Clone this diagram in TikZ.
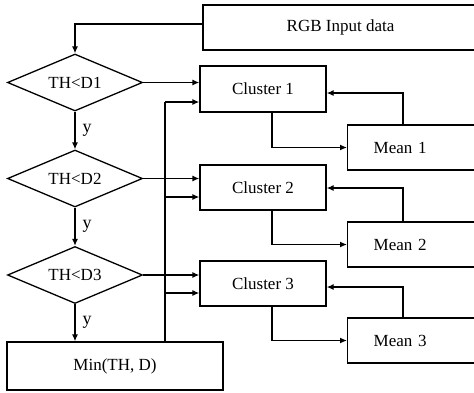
\documentclass[tikz,border=0pt]{standalone}
\usepackage{fontspec}
\setmainfont{Liberation Serif}
\usetikzlibrary{shapes.geometric,arrows.meta}
\begin{document}
\begin{tikzpicture}[x=1pt,y=-1pt,
  every node/.style={font=\fontsize{17}{19}\selectfont},
  box/.style={draw,line width=1.3pt,rectangle,inner sep=0pt},
  dia/.style={draw,line width=1.3pt,diamond,inner sep=0pt,aspect=2.37,minimum width=135pt,minimum height=57pt},
  conn/.style={line width=1.3pt},
  arr/.style={line width=1.3pt,-{Latex[length=7pt,width=6pt]}},
  ylab/.style={font=\fontsize{18}{19}\selectfont,inner sep=0pt}]
\useasboundingbox (0,0) rectangle (474,392);
\clip (0,0) rectangle (474,392);
% nodes
\node[box,minimum width=275pt,minimum height=45pt] (rgb) at (340.5,27.5) {RGB Input data};
\node[dia] (d1) at (75,82.5) {TH<D1};
\node[dia] (d2) at (75,178.5) {TH<D2};
\node[dia] (d3) at (75,275) {TH<D3};
\node[box,minimum width=216pt,minimum height=48pt] (min) at (115,366) {Min(TH, D)};
\node[box,minimum width=126pt,minimum height=46pt] (c1) at (263,89) {Cluster 1};
\node[box,minimum width=126pt,minimum height=45pt] (c2) at (263,187.5) {Cluster 2};
\node[box,minimum width=126pt,minimum height=45pt] (c3) at (263,283.5) {Cluster 3};
\node[box,anchor=west,inner xsep=26pt,text width=81pt,align=left,minimum height=45pt] (m1) at (347,147.5) {Mean 1};
\node[box,anchor=west,inner xsep=26pt,text width=81pt,align=left,minimum height=45pt] (m2) at (347,244.5) {Mean 2};
\node[box,anchor=west,inner xsep=26pt,text width=81pt,align=left,minimum height=45pt] (m3) at (347,340.5) {Mean 3};
% helper coordinates
\coordinate (bus) at (165,0);
\coordinate (xdown) at (272,0);
\coordinate (xup) at (403,0);
\coordinate (b1) at (165,102);
\coordinate (b2) at (165,197);
\coordinate (b3) at (165,293);
\coordinate (r1) at (0,93);
\coordinate (r2) at (0,188);
\coordinate (r3) at (0,287);
\coordinate (rin) at (0,24);
% connectors
\draw[arr] (rin -| rgb.west) -| (d1.north);
\draw[arr] (d1.south) -- node[ylab,right=7pt] {y} (d2.north);
\draw[arr] (d2.south) -- node[ylab,right=7pt] {y} (d3.north);
\draw[arr] (d3.south) -- node[ylab,right=7pt] {y} (min.north -| d3.south);
\draw[arr] (d1.east) -- (d1.east -| c1.west);
\draw[arr] (d2.east) -- (d2.east -| c2.west);
\draw[arr] (d3.east) -- (d3.east -| c3.west);
\draw[conn] (min.north -| bus) -- (b1);
\draw[arr] (b1) -- (b1 -| c1.west);
\draw[arr] (b2) -- (b2 -| c2.west);
\draw[arr] (b3) -- (b3 -| c3.west);
\draw[arr] (c1.south -| xdown) |- (m1.west);
\draw[arr] (c2.south -| xdown) |- (m2.west);
\draw[arr] (c3.south -| xdown) |- (m3.west);
\draw[arr] (m1.north -| xup) |- (r1 -| c1.east);
\draw[arr] (m2.north -| xup) |- (r2 -| c2.east);
\draw[arr] (m3.north -| xup) |- (r3 -| c3.east);
\end{tikzpicture}
\end{document}
